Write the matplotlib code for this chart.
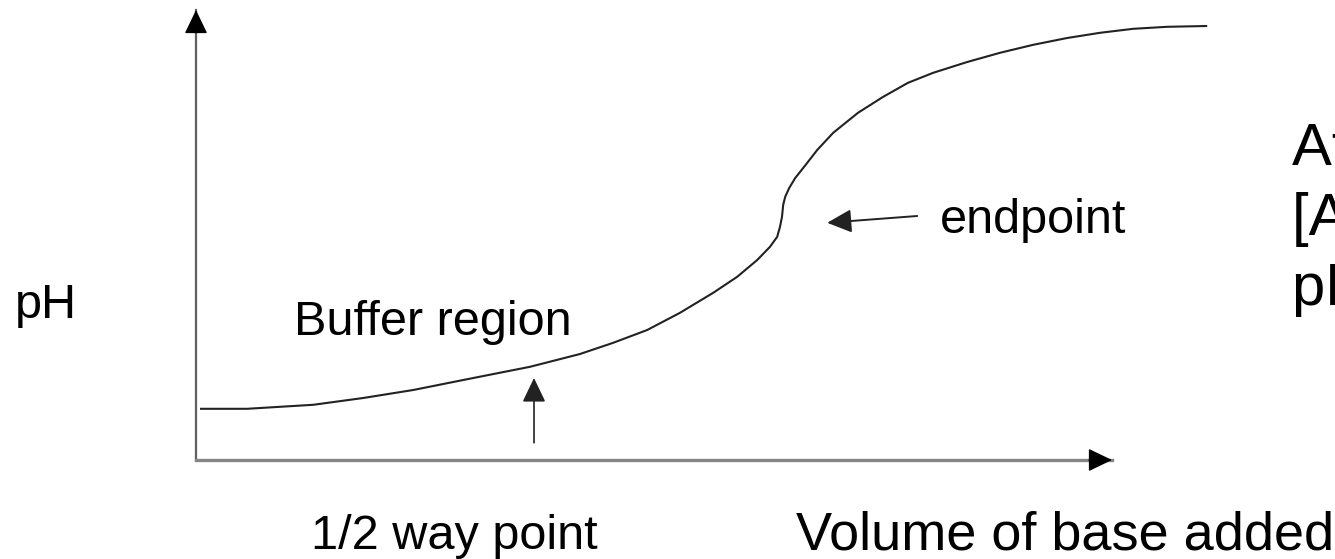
import matplotlib
matplotlib.use("Agg")
import matplotlib.pyplot as plt

W, H = 1335, 559

# titration curve: volume of base (mL), pH
volume = [0.1, 1.28, 2.1, 2.93, 4.18, 5.43, 6.68, 8.35, 9.6, 10.43, 11.28,
          12.1, 12.93, 13.53, 14.03, 14.35, 14.53, 14.6, 14.65, 14.68, 14.73,
          14.83, 14.98, 15.18, 15.53, 15.93, 16.55, 17.18, 17.8, 18.43, 19.28,
          20.1, 20.93, 21.78, 22.6, 23.43, 24.28, 25.28]
ph = [3.28, 3.28, 3.33, 3.38, 3.55, 3.75, 4.0, 4.33, 4.65, 4.93, 5.25,
      5.68, 6.18, 6.58, 7.0, 7.33, 7.58, 7.83, 8.08, 8.38, 8.58,
      8.8, 9.05, 9.3, 9.75, 10.18, 10.68, 11.08, 11.43, 11.68, 11.95,
      12.18, 12.38, 12.55, 12.68, 12.78, 12.83, 12.85]

# annotation anchors (volume, pH)
half_way_tip = (8.45, 4.05)
half_way_tail = (8.45, 2.43)
endpoint_tip = (15.78, 7.93)
endpoint_tail = (18.03, 8.1)

labels = {
    "pH": (15, 318, 35),
    "Buffer region": (294, 335, 35),
    "endpoint": (940, 233, 35),
    "1/2 way point": (311, 549, 35),
    "Volume of base added": (796, 549, 39),
}
note_lines = ["At the 1/2 way point,", "[A\u207b] = [HA]", "pH = pKa"]

plt.rcParams['font.family'] = ['Liberation Sans', 'DejaVu Sans']

fig = plt.figure(figsize=(W / 100, H / 100), dpi=100)
fig.patch.set_facecolor('white')

# axes box in pixels: left 196, right 1112, bottom 460, top 10
ax = fig.add_axes([196 / W, (H - 460) / H, (1112 - 196) / W, (460 - 10) / H])
ax.set_xlim(0, (1112 - 196) / 40)
ax.set_ylim(2, 2 + 450 / 40)
ax.set_xticks([])
ax.set_yticks([])
for s in ['top', 'right']:
    ax.spines[s].set_visible(False)
ax.spines['left'].set_color('#606060')
ax.spines['left'].set_linewidth(1.6)
ax.spines['bottom'].set_color('#858585')
ax.spines['bottom'].set_linewidth(2.4)
ax.patch.set_alpha(0)

head = '-|>,head_length=0.75,head_width=0.36'
# axis arrowheads
ax.annotate('', xy=(1, 0), xytext=(0.975, 0), xycoords='axes fraction',
            arrowprops=dict(arrowstyle=head, color='black', lw=1,
                            mutation_scale=20, shrinkA=0, shrinkB=0))
ax.annotate('', xy=(0, 1), xytext=(0, 0.95), xycoords='axes fraction',
            arrowprops=dict(arrowstyle=head, color='black', lw=1,
                            mutation_scale=20, shrinkA=0, shrinkB=0))

ax.plot(volume, ph, color='#222222', lw=1.5, clip_on=False,
        solid_joinstyle='round', solid_capstyle='butt')

ax.annotate('', xy=half_way_tip, xytext=half_way_tail,
            arrowprops=dict(arrowstyle=head, color='#222222', lw=1.2,
                            mutation_scale=20, shrinkA=0, shrinkB=0))
ax.annotate('', xy=endpoint_tip, xytext=endpoint_tail,
            arrowprops=dict(arrowstyle=head, color='#222222', lw=1.4,
                            mutation_scale=20, shrinkA=0, shrinkB=0))

for txt, (x, y, fs) in labels.items():
    fig.text(x / W, 1 - y / H, txt, fontsize=fs, ha='left', va='baseline',
             color='black')

# side note, cut off by the right edge as in the original
for i, line in enumerate(note_lines):
    fig.text(1292 / W, 1 - (165 + 70 * i) / H, line, fontsize=43,
             ha='left', va='baseline', color='black')

fig.savefig('out.png', dpi=100, facecolor='white')
